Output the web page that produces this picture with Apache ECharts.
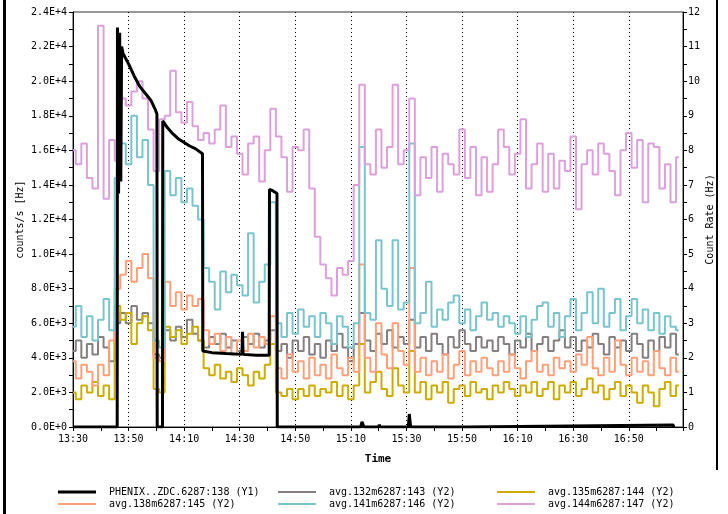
<!DOCTYPE html>
<html>
<head>
<meta charset="utf-8">
<script src="https://cdn.jsdelivr.net/npm/echarts@6/dist/echarts.min.js"></script>
<style>
  html, body { margin: 0; padding: 0; background: #fff; }
  #chart { width: 728px; height: 514px; }
</style>
</head>
<body>
<div id="chart"></div>
<script>
// sample times of the averaged rates (Y2)
const sampleTimes = [
  '13:30', '13:32', '13:34', '13:36', '13:38', '13:40', '13:42', '13:44', '13:46', '13:48',
  '13:50', '13:52', '13:54', '13:56', '13:58', '14:00', '14:02', '14:04', '14:06', '14:08',
  '14:10', '14:12', '14:14', '14:16', '14:18', '14:20', '14:22', '14:24', '14:26', '14:28',
  '14:30', '14:32', '14:34', '14:36', '14:38', '14:40', '14:42', '14:44', '14:46', '14:48',
  '14:50', '14:52', '14:54', '14:56', '14:58', '15:00', '15:02', '15:04', '15:06', '15:08',
  '15:10', '15:12', '15:14', '15:16', '15:18', '15:20', '15:22', '15:24', '15:26', '15:28',
  '15:30', '15:32', '15:34', '15:36', '15:38', '15:40', '15:42', '15:44', '15:46', '15:48',
  '15:50', '15:52', '15:54', '15:56', '15:58', '16:00', '16:02', '16:04', '16:06', '16:08',
  '16:10', '16:12', '16:14', '16:16', '16:18', '16:20', '16:22', '16:24', '16:26', '16:28',
  '16:30', '16:32', '16:34', '16:36', '16:38', '16:40', '16:42', '16:44', '16:46', '16:48',
  '16:50', '16:52', '16:54', '16:56', '16:58', '17:00', '17:02', '17:04', '17:06', '17:08'
]

// avg.132m6287:143 (gray)
const rate143 = [
  2.2, 2.5, 2.0, 2.4, 2.1, 2.6, 2.3, 1.9, 3.0, 3.3,
  3.0, 3.5, 3.1, 3.3, 3.0, 2.1, 2.0, 2.8, 2.5, 2.9,
  2.6, 3.1, 2.7, 2.5, 2.3, 2.6, 2.4, 2.7, 2.3, 2.5,
  2.2, 2.6, 2.4, 2.7, 2.3, 2.5, 2.8, 2.2, 2.4, 2.0,
  2.5, 2.2, 2.6, 2.1, 2.4, 2.0, 2.5, 2.2, 2.7, 2.3,
  1.9, 2.4, 3.3, 2.5, 2.2, 2.7, 2.4, 2.8, 2.3, 2.6,
  2.4, 3.1, 2.3, 2.6, 2.2, 2.7, 2.4, 2.1, 2.6, 2.3,
  2.8, 2.4, 2.2, 2.6, 2.3, 2.5, 2.2, 2.6, 2.4, 2.1,
  2.5, 2.3, 2.7, 2.2, 2.4, 2.6, 2.2, 2.5, 2.8, 2.3,
  2.6, 2.2, 2.5, 2.3, 2.7, 2.4, 2.1, 2.6, 2.3, 2.5,
  2.2, 2.7, 2.4, 2.0, 2.5, 2.2, 2.6, 2.3, 2.7, 2.1
]

// avg.135m6287:144 (gold)
const rate144 = [
  1.0, 0.8, 1.2, 1.0, 1.3, 0.9, 1.2, 0.8, 3.5, 3.1,
  3.3, 2.4, 3.0, 3.2, 2.8, 1.1, 1.0, 2.9, 2.6, 2.8,
  2.4, 2.7, 2.9, 2.5, 1.7, 1.5, 1.8, 1.4, 1.6, 1.3,
  1.7, 1.5, 1.2, 1.6, 1.4, 1.8, 2.4, 1.0, 0.9, 1.1,
  0.8, 1.1, 0.9, 1.2, 0.9, 1.1, 1.0, 1.3, 0.9, 1.2,
  0.8, 1.2, 2.4, 1.0, 1.3, 1.6, 1.1, 0.9, 1.7, 1.2,
  1.0, 2.2, 1.0, 1.3, 0.8, 1.2, 1.0, 1.3, 0.7, 1.1,
  1.2, 0.9, 1.3, 1.0, 1.1, 0.8, 1.2, 1.0, 1.3, 1.1,
  0.9, 1.2, 1.0, 1.3, 0.9, 1.1, 1.3, 0.8, 1.2, 1.0,
  1.3, 0.9, 1.1, 1.4, 1.0, 1.2, 0.8, 1.1, 1.3, 0.9,
  1.2, 1.0, 0.7, 1.2, 1.0, 0.6, 1.1, 1.3, 0.9, 1.2
]

// avg.138m6287:145 (salmon)
const rate145 = [
  1.9, 1.4, 1.8, 1.6, 1.2, 1.8, 1.5, 2.5, 4.0, 4.4,
  4.8, 4.2, 4.6, 5.0, 4.3, 2.0, 1.9, 4.2, 3.5, 3.9,
  3.4, 3.8, 3.5, 3.7, 2.8, 2.4, 2.7, 2.2, 2.6, 2.1,
  2.5, 2.2, 2.7, 2.3, 2.6, 2.4, 3.2, 1.7, 1.4, 2.1,
  1.6, 1.9, 1.4, 2.0, 1.5, 1.8, 1.4, 2.1, 1.7, 1.5,
  2.0, 1.6, 4.7, 2.0, 1.6, 3.0, 2.1, 1.7, 3.0, 2.2,
  1.8, 4.6, 1.6, 2.0, 1.5, 1.9, 1.6, 2.1, 1.4, 1.8,
  2.2, 1.5, 1.9, 1.6, 2.0, 1.7, 1.5, 1.9, 1.6, 2.1,
  1.7, 1.4, 1.9, 2.2, 1.6, 1.8, 1.5, 2.0, 1.7, 1.9,
  1.6, 2.1, 1.8, 2.6, 1.7, 1.5, 2.0, 1.6, 2.5, 1.8,
  1.5, 2.0, 1.6, 1.9, 1.5, 2.2, 1.7, 1.5, 2.0, 1.6
]

// avg.141m6287:146 (teal)
const rate146 = [
  2.9, 3.5, 2.6, 3.2, 2.5, 3.1, 3.7, 2.8, 7.2, 8.2,
  7.6, 9.0, 7.8, 8.3, 7.0, 2.5, 2.3, 7.4, 6.7, 7.2,
  6.5, 6.9, 6.4, 6.0, 4.6, 4.2, 3.4, 4.5, 3.9, 4.4,
  4.1, 3.8, 5.6, 3.6, 4.2, 4.7, 6.5, 3.0, 2.6, 3.3,
  2.7, 3.4, 2.9, 3.2, 2.6, 3.3, 3.0, 2.4, 3.2, 2.9,
  2.3, 3.0, 8.1, 3.3, 3.1, 5.4, 4.0, 3.5, 5.4, 3.4,
  3.6, 8.2, 3.0, 3.3, 4.2, 2.9, 3.4, 3.1, 3.6, 3.8,
  3.0, 3.4, 2.8, 3.2, 3.6, 3.1, 3.3, 2.9, 3.2, 3.0,
  2.7, 3.2, 2.6, 3.1, 3.5, 3.6, 2.9, 3.3, 2.6, 3.2,
  3.7, 2.8, 3.3, 3.9, 3.0, 4.0, 2.9, 3.3, 3.7, 2.8,
  3.2, 3.7, 3.0, 3.4, 2.8, 3.3, 2.7, 3.2, 2.9, 2.8
]

// avg.144m6287:147 (plum)
const rate147 = [
  8.0, 7.6, 8.2, 7.2, 6.9, 11.6, 6.6, 8.3, 7.7, 9.5,
  9.3, 9.7, 10.0, 9.5, 8.6, 7.4, 8.9, 9.0, 10.3, 9.1,
  8.8, 9.4, 8.7, 8.3, 8.5, 8.2, 8.6, 9.3, 8.1, 8.4,
  7.9, 7.3, 8.2, 8.4, 7.1, 8.0, 9.2, 8.4, 7.8, 6.8,
  8.1, 8.0, 8.6, 6.9, 5.5, 4.7, 4.3, 3.8, 4.6, 4.4,
  4.8, 7.0, 9.9, 7.6, 7.3, 8.6, 7.5, 8.1, 9.9, 7.6,
  8.0, 9.5, 6.7, 7.8, 7.2, 8.1, 6.8, 7.9, 7.6, 7.3,
  8.6, 7.2, 8.1, 6.7, 7.8, 6.8, 7.6, 8.6, 8.1, 7.3,
  7.9, 8.9, 6.9, 7.6, 8.2, 6.8, 7.9, 6.9, 7.7, 7.4,
  8.4, 6.3, 7.6, 8.0, 7.3, 8.2, 7.9, 7.4, 6.7, 8.0,
  8.5, 7.5, 8.3, 6.5, 8.2, 8.1, 6.9, 7.6, 6.5, 7.8
]

// PHENIX..ZDC.6287:138 (Y1), counts/s
const zdcTimes = [
  '13:30:00', '13:45:54', '13:46:00', '13:46:24', '13:46:48', '13:47:12', '13:47:30', '13:48:00',
  '13:50:00', '13:52:00', '13:54:00', '13:56:00', '13:58:00', '13:59:30', '14:00:12', '14:00:18',
  '14:02:12', '14:02:18', '14:04:00', '14:06:00', '14:08:00', '14:10:00', '14:12:00', '14:14:00',
  '14:16:36', '14:16:42', '14:20:00', '14:25:00', '14:30:48', '14:31:00', '14:31:12', '14:36:00',
  '14:40:36', '14:40:42', '14:42:00', '14:43:24', '14:43:30', '15:13:30', '15:14:00', '15:14:40',
  '15:20:00', '15:20:10', '15:20:40', '15:25:00', '15:25:10', '15:25:40', '15:30:40', '15:31:00',
  '15:31:30', '15:52:00', '15:52:10', '17:06:00', '17:06:10'
]
const zdcRate = [
  0, 0, 23100, 13500, 22800, 14200, 22000, 21600,
  21000, 20300, 19700, 19300, 18900, 18400, 18100, 0,
  0, 17700, 17300, 16950, 16650, 16450, 16250, 16100,
  15800, 4400, 4300, 4250, 4200, 5500, 4200, 4150,
  4150, 13750, 13650, 13500, 0, 0, 300, 0,
  0, 120, 0, 0, 100, 0, 0, 750,
  0, 0, 110, 110, 0
]

const xTickLabels = ['13:30', '13:50', '14:10', '14:30', '14:50', '15:10', '15:30', '15:50', '16:10', '16:30', '16:50']

const seriesNames = [
  'PHENIX..ZDC.6287:138 (Y1)', 'avg.132m6287:143 (Y2)', 'avg.135m6287:144 (Y2)',
  'avg.138m6287:145 (Y2)', 'avg.141m6287:146 (Y2)', 'avg.144m6287:147 (Y2)'
]
const seriesColors = ['#000000', '#857f7f', '#cdad00', '#ffa07a', '#7ac5cd', '#dda0dd']

// minutes after the first tick label
const START = 13 * 60 + 30
function toMin (s) {
  const p = s.split(':').map(Number)
  return p[0] * 60 + p[1] + (p[2] || 0) / 60 - START
}
function fmtTime (m) {
  const t = Math.round(m) + START
  const h = Math.floor(t / 60)
  const mm = t % 60
  return h + ':' + (mm < 10 ? '0' : '') + mm
}

const FONT = 'DejaVu Sans Mono'
const chart = echarts.init(document.getElementById('chart'))

function pairs (times, vals) {
  return times.map((t, i) => [toMin(t), vals[i]])
}

const rateLists = [null, rate143, rate144, rate145, rate146, rate147]
const series = seriesNames.map((name, i) => {
  if (i === 0) {
    return {
      name: name,
      type: 'line',
      yAxisIndex: 0,
      data: pairs(zdcTimes, zdcRate),
      showSymbol: false,
      symbol: 'none',
      z: 5,
      lineStyle: { color: seriesColors[i], width: 3 },
      itemStyle: { color: seriesColors[i] }
    }
  }
  return {
    name: name,
    type: 'line',
    yAxisIndex: 1,
    step: 'middle',
    data: pairs(sampleTimes, rateLists[i]),
    showSymbol: false,
    symbol: 'none',
    lineStyle: { color: seriesColors[i], width: 2 },
    itemStyle: { color: seriesColors[i] }
  }
})

// legend: two rows, three columns
const legendSpots = [
  { left: 58, top: 487 }, { left: 278, top: 487 }, { left: 497, top: 487 },
  { left: 58, top: 499 }, { left: 278, top: 499 }, { left: 497, top: 499 }
]
const legends = legendSpots.map((spot, si) => ({
  data: [seriesNames[si]],
  left: spot.left,
  top: spot.top,
  orient: 'horizontal',
  icon: 'rect',
  itemWidth: 38,
  itemHeight: si === 0 ? 3 : 2,
  itemGap: 0,
  padding: 0,
  selectedMode: false,
  textStyle: { fontFamily: FONT, fontSize: 10, color: '#000', padding: [0, 0, 0, 8] }
}))

const option = {
  backgroundColor: '#ffffff',
  animation: false,
  grid: {
    left: 73, right: 45, top: 12, bottom: 87,
    show: true, borderColor: '#333', borderWidth: 1
  },
  legend: legends,
  xAxis: {
    type: 'value',
    min: 0,
    max: 219.5,
    interval: 20,
    name: 'Time',
    nameLocation: 'middle',
    nameGap: 27,
    nameTextStyle: { fontFamily: FONT, fontSize: 11, color: '#000', fontWeight: 'bold' },
    axisLine: { lineStyle: { color: '#000', width: 1 } },
    axisTick: { show: true, length: 4, lineStyle: { color: '#000' } },
    minorTick: { show: true, splitNumber: 2, length: 4, lineStyle: { color: '#000' } },
    axisLabel: {
      showMaxLabel: false,
      fontFamily: FONT, fontSize: 10, color: '#000', margin: 7,
      formatter: v => xTickLabels.includes(fmtTime(v)) ? fmtTime(v) : ''
    },
    splitLine: { show: true, lineStyle: { color: '#000', type: [1, 3], width: 1 } }
  },
  yAxis: [
    {
      type: 'value',
      min: 0, max: 24000, interval: 2000,
      name: 'counts/s [Hz]',
      nameLocation: 'middle',
      nameRotate: 90,
      nameMoveOverlap: false,
      nameGap: 48,
      nameTextStyle: { fontFamily: FONT, fontSize: 10, color: '#000' },
      axisLine: { show: true, lineStyle: { color: '#000' } },
      axisTick: { show: true, length: 4, lineStyle: { color: '#000' } },
      minorTick: { show: true, splitNumber: 2, length: 4, lineStyle: { color: '#000' } },
      axisLabel: {
        fontFamily: FONT, fontSize: 10, color: '#000', margin: 6,
        formatter: v => v.toExponential(1).toUpperCase()
      },
      splitLine: { show: false }
    },
    {
      type: 'value',
      min: 0, max: 12, interval: 1,
      name: 'Count Rate (Hz)',
      nameLocation: 'middle',
      nameRotate: 90,
      nameMoveOverlap: false,
      nameGap: 22,
      nameTextStyle: { fontFamily: FONT, fontSize: 10, color: '#000' },
      axisLine: { show: true, lineStyle: { color: '#000' } },
      axisTick: { show: true, length: 4, lineStyle: { color: '#000' } },
      minorTick: { show: true, splitNumber: 2, length: 4, lineStyle: { color: '#000' } },
      axisLabel: { fontFamily: FONT, fontSize: 10, color: '#000', margin: 5 },
      splitLine: { show: false }
    }
  ],
  graphic: [
    { type: 'rect', shape: { x: 3, y: 0, width: 3, height: 514 }, style: { fill: '#000' } },
    { type: 'rect', shape: { x: 716, y: 0, width: 2, height: 470 }, style: { fill: '#000' } }
  ],
  series: series
}

chart.setOption(option)
</script>
</body>
</html>
